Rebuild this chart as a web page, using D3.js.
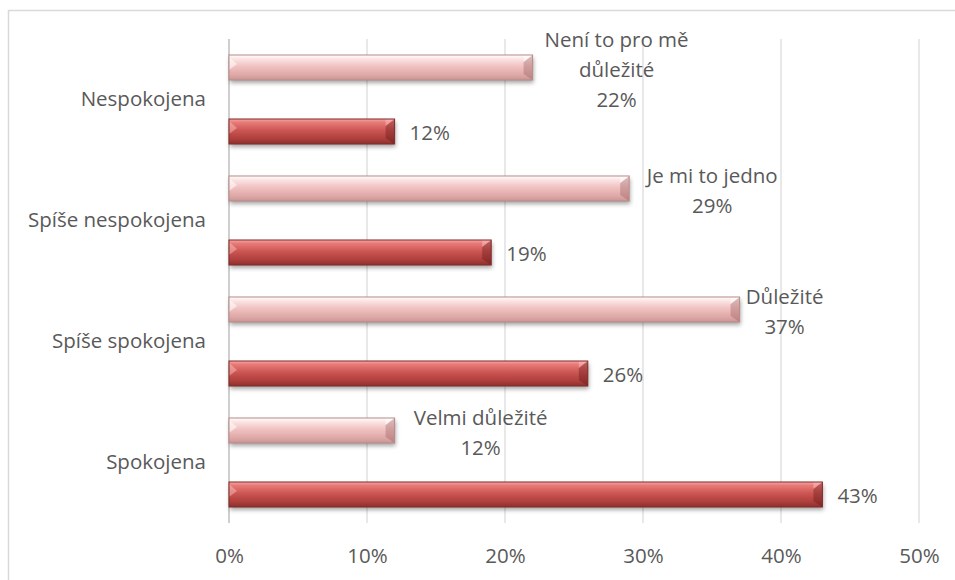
<!DOCTYPE html>
<html>
<head>
<meta charset="utf-8">
<script src="https://cdn.jsdelivr.net/npm/d3@7"></script>
<style>
  html, body { margin: 0; padding: 0; background: #fff; }
  svg { display: block; }
  text { font-family: "Open Sans", "Noto Sans", sans-serif; fill: #595959; }
</style>
</head>
<body>
<svg id="chart" width="955" height="580"></svg>
<script>
// Satisfaction categories (top to bottom)
const categories = ["Nespokojena", "Spíše nespokojena", "Spíše spokojena", "Spokojena"];
// Importance share (light bars) and its label names
const importanceValues = [22, 29, 37, 12];
const importanceNames = [["Není to pro mě", "důležité"], ["Je mi to jedno"], ["Důležité"], ["Velmi důležité"]];
// Satisfaction share (dark bars)
const satisfactionValues = [12, 19, 26, 43];
// Axis ticks
const tickValues = [0, 10, 20, 30, 40, 50];

// Hand-placed label anchors for the light series, relative to the bar end
const importanceLabelShift = [84, 83, 45, 86];

const svg = d3.select("#chart");
const FONT = "20.5px";

// chart frame (cropped on the right and bottom)
svg.append("rect")
  .attr("x", 8.5).attr("y", 10.5)
  .attr("width", 955).attr("height", 600)
  .attr("fill", "#fff").attr("stroke", "#d9d9d9").attr("stroke-width", 1.5);

const plot = { left: 229, right: 919, top: 39, bottom: 523 };

const x = d3.scaleLinear().domain([0, 50]).range([plot.left, plot.right]);
const y = d3.scaleBand().domain(categories).range([plot.top, plot.bottom]);
const barH = 25;
const offset = 32;

const defs = svg.append("defs");
function grad(id, stops) {
  const g = defs.append("linearGradient").attr("id", id)
    .attr("x1", 0).attr("y1", 0).attr("x2", 0).attr("y2", 1);
  stops.forEach(s => g.append("stop").attr("offset", s[0]).attr("stop-color", s[1]));
}
grad("gRed", [[0, "#f6a6a4"], [0.14, "#e77a77"], [0.45, "#cc5653"], [0.8, "#ad3e3b"], [1, "#8e2f2c"]]);
grad("gPink", [[0, "#ffffff"], [0.14, "#fce6e6"], [0.45, "#f0c2c1"], [0.8, "#dea8a7"], [1, "#c99594"]]);

const shadow = defs.append("filter").attr("id", "shadow")
  .attr("x", "-5%").attr("y", "-30%").attr("width", "110%").attr("height", "180%");
shadow.append("feDropShadow").attr("dx", 1).attr("dy", 3).attr("stdDeviation", 2)
  .attr("flood-color", "#000").attr("flood-opacity", 0.35);

// gridlines
svg.append("g").selectAll("line").data(tickValues).join("line")
  .attr("x1", d => x(d)).attr("x2", d => x(d))
  .attr("y1", plot.top).attr("y2", plot.bottom)
  .attr("stroke", d => d === 0 ? "#cfcfcf" : "#d9d9d9")
  .attr("stroke-width", d => d === 0 ? 2 : 1.2);

// x axis labels
const xAxis = d3.axisBottom(x).tickValues(tickValues).tickFormat(d => d + "%").tickSize(0).tickPadding(0);
const gx = svg.append("g").attr("transform", `translate(0,${plot.bottom + 25})`).call(xAxis);
gx.select(".domain").remove();
gx.selectAll("text").style("font-size", FONT).attr("fill", "#595959")
  .style("font-family", "\"Open Sans\", sans-serif");

// category labels
const yAxis = d3.axisLeft(y).tickSize(0).tickPadding(23);
const gy = svg.append("g").attr("transform", `translate(${plot.left},0)`).call(yAxis);
gy.select(".domain").remove();
gy.selectAll("text").style("font-size", FONT).attr("fill", "#595959")
  .style("font-family", "\"Open Sans\", sans-serif");

function drawBar(g, v, cy, fill, edge, facetDark, facetLight) {
  const x0 = x(0), x1 = x(v), y0 = cy - barH / 2, y1 = cy + barH / 2;
  const b = g.append("g");
  b.append("rect").attr("x", x0).attr("y", y0).attr("width", x1 - x0).attr("height", barH)
    .attr("fill", fill).attr("filter", "url(#shadow)");
  // right bevel
  b.append("path")
    .attr("d", `M${x1 - 9},${y0 + 7} L${x1},${y0} L${x1},${y1} L${x1 - 9},${y1 - 6} Z`)
    .attr("fill", facetDark);
  b.append("path")
    .attr("d", `M${x1 - 9},${y0} L${x1},${y0} L${x1 - 9},${y0 + 7} Z`)
    .attr("fill", facetLight);
  // left bevel
  b.append("path")
    .attr("d", `M${x0},${y0 + 2} L${x0 + 8},${y0 + 9} L${x0},${y0 + 15} Z`)
    .attr("fill", facetLight);
  b.append("rect").attr("x", x0).attr("y", y0).attr("width", x1 - x0).attr("height", barH)
    .attr("fill", "none").attr("stroke", edge).attr("stroke-width", 1);
}

const bars = svg.append("g");
categories.forEach((c, i) => {
  const cy = y(c) + y.bandwidth() / 2;
  drawBar(bars, importanceValues[i], cy - offset, "url(#gPink)", "#b88a89", "rgba(150,90,90,0.35)", "rgba(255,255,255,0.55)");
  drawBar(bars, satisfactionValues[i], cy + offset, "url(#gRed)", "#7f2a28", "rgba(90,20,20,0.35)", "rgba(255,200,200,0.45)");
});

// labels
const labels = svg.append("g").style("font-size", FONT);
const lineH = 30;
categories.forEach((c, i) => {
  const cy = y(c) + y.bandwidth() / 2;
  // dark series value labels
  labels.append("text")
    .attr("x", x(satisfactionValues[i]) + 15).attr("y", cy + offset)
    .attr("dominant-baseline", "central")
    .text(satisfactionValues[i] + "%");
  // light series: name + value, centred block
  const lines = importanceNames[i].concat([importanceValues[i] + "%"]);
  const pcy = cy - offset + 1;
  const first = pcy - (lines.length - 1) * lineH / 2;
  const t = labels.append("text").attr("text-anchor", "middle");
  lines.forEach((ln, k) => {
    t.append("tspan")
      .attr("x", x(importanceValues[i]) + importanceLabelShift[i])
      .attr("y", first + k * lineH)
      .attr("dominant-baseline", "central")
      .text(ln);
  });
});
</script>
</body>
</html>
